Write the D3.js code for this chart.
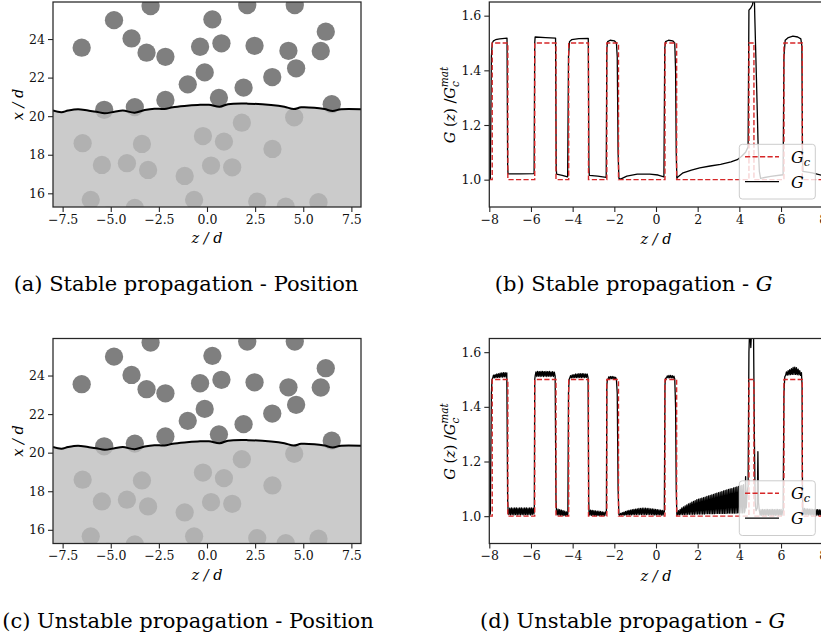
<!DOCTYPE html>
<html><head><meta charset="utf-8">
<script src="https://cdn.jsdelivr.net/npm/d3@7"></script>
<style>
body{margin:0;background:#fff}
svg text{font-family:'DejaVu Serif',serif;fill:#000}
</style>
</head><body>
<svg id="fig" width="821" height="637"></svg>
<script>
// ---------------- DATA ----------------
// particle centres [z/d, x/d]
const particles = [
 [-6.51,23.55],[-4.83,24.98],[-2.93,25.71],[-3.92,24.03],[-3.14,23.29],[-2.16,23.08],
 [-0.36,23.60],[0.28,25.02],[0.75,23.78],[2.09,25.76],[2.47,23.65],[4.56,25.76],
 [4.23,23.39],[6.17,24.38],[5.91,23.38],[4.63,22.48],[3.39,22.03],[1.90,21.48],
 [-0.12,22.27],[-1.00,21.65],[0.62,20.95],[-2.16,20.84],[-3.75,20.47],[-5.34,20.33],
 [6.48,20.62],
 [-6.46,18.60],[-3.38,18.56],[-0.21,18.97],[0.88,18.68],[1.81,19.66],[4.53,19.94],
 [3.40,18.30],[-5.46,17.47],[-4.16,17.56],[-3.06,17.21],[-1.16,16.90],[0.21,17.44],
 [1.31,17.35],[-6.04,15.66],[-0.67,15.66],[-3.75,15.24],[2.61,15.57],[4.09,15.31],
 [5.79,15.54],[-5.15,14.85]
];
const particleRadius = 0.475;
// crack front
const frontZ = [-8.0,-7.56,-7.22,-6.70,-6.18,-5.75,-5.32,-4.80,-4.37,-3.76,-3.24,-2.73,-2.21,-1.78,-1.17,-0.48,0.10,0.66,1.09,2.12,3.33,4.02,4.51,4.89,5.58,6.10,6.53,6.96,8.0];
const frontX = [20.29,20.20,20.29,20.36,20.29,20.23,20.15,20.23,20.29,20.18,20.32,20.39,20.37,20.46,20.53,20.58,20.59,20.49,20.62,20.65,20.58,20.49,20.37,20.46,20.44,20.37,20.27,20.36,20.36];

// G_c step breakpoints [z, value]
const gcSteps = [[-8,1.0],[-7.86,1.5],[-7.11,1.0],[-5.82,1.5],[-4.80,1.0],[-4.19,1.5],[-3.24,1.0],
 [-2.36,1.5],[-1.80,1.0],[0.43,1.5],[0.99,1.0],[4.46,1.5],[4.70,1.0],[6.14,1.5],[7.02,1.0],[8,1.0]];

// stable propagation G(z)
const gStable = [
 [-8.00,1.000],[-7.95,1.005],[-7.90,1.45],[-7.86,1.500],[-7.80,1.508],[-7.70,1.512],[-7.50,1.515],[-7.15,1.518],
 [-7.12,1.05],[-7.10,1.021],[-6.50,1.021],[-5.85,1.022],
 [-5.82,1.50],[-5.80,1.522],[-5.30,1.520],[-4.82,1.518],
 [-4.79,1.05],[-4.77,1.020],[-4.50,1.016],[-4.24,1.010],
 [-4.20,1.45],[-4.15,1.505],[-4.05,1.512],[-3.70,1.516],[-3.25,1.517],
 [-3.22,1.05],[-3.20,1.016],[-2.80,1.013],[-2.39,1.008],
 [-2.36,1.48],[-2.32,1.505],[-2.20,1.510],[-2.00,1.508],[-1.90,1.500],[-1.86,1.45],[-1.82,1.10],[-1.78,1.005],[-1.70,1.002],
 [-1.40,1.013],[-0.90,1.020],[-0.30,1.020],[0.10,1.017],[0.38,1.010],
 [0.42,1.48],[0.46,1.505],[0.60,1.510],[0.80,1.508],[0.90,1.500],[0.94,1.40],[0.97,1.10],[1.00,1.005],
 [1.05,1.010],[1.30,1.025],[1.70,1.035],[2.10,1.043],[2.60,1.050],[3.10,1.056],[3.60,1.065],[3.90,1.073],
 [4.10,1.085],[4.30,1.100],[4.42,1.120],
 [4.46,1.620],[4.55,1.628],[4.63,1.640],[4.68,1.660],[4.71,1.700],[4.74,1.600],[4.82,1.370],[4.90,1.130],
 [4.96,1.030],[5.02,1.005],[5.50,1.012],[6.10,1.018],
 [6.14,1.45],[6.20,1.510],[6.35,1.520],[6.57,1.525],[6.80,1.522],[6.95,1.515],[7.00,1.49],[7.03,1.10],
 [7.05,1.030],[7.50,1.025],[8.00,1.015]
];

// unstable propagation G(z): transition points [z, G]
const gUnstableEdges = [
 [-8.00,1.000],[-7.95,1.010],[-7.90,1.450],[-7.87,1.500],
 [-7.12,1.060],[-7.09,1.010],
 [-5.84,1.030],[-5.82,1.500],
 [-4.80,1.060],[-4.77,1.010],
 [-4.23,1.010],[-4.20,1.450],[-4.17,1.500],
 [-3.23,1.060],[-3.21,1.010],
 [-2.38,1.020],[-2.36,1.480],[-2.33,1.500],
 [-1.86,1.450],[-1.82,1.100],[-1.78,1.005],
 [0.40,1.015],[0.43,1.480],[0.46,1.505],
 [0.94,1.400],[0.97,1.100],[1.00,1.005],
 [4.27,1.020],[4.30,1.145],[4.33,1.030],[4.38,1.090],[4.42,1.110],[4.46,1.600],[4.50,1.700],[4.55,1.617],
 [4.60,1.700],[4.68,1.680],[4.72,1.300],[4.76,1.050],[4.80,1.020],[4.86,1.030],[4.89,1.236],[4.92,1.050],[4.96,1.020],
 [6.10,1.020],[6.14,1.450],[6.18,1.510],
 [7.01,1.480],[7.03,1.100],[7.05,1.010]
];
// unstable propagation G(z): oscillating stretches, sampled every dz from z0
const gUnstableRipples = [
 {z0:-7.84,dz:0.04,g:[1.504,1.516,1.506,1.518,1.507,1.520,1.508,1.521,1.508,1.523,1.509,1.524,1.509,1.525,1.510,1.525,1.510,1.524]},
 {z0:-7.06,dz:0.04,g:[1.006,1.029,1.005,1.030,1.006,1.029,1.005,1.030,1.006,1.030,1.005,1.029,1.006,1.030,1.005,1.030,1.006,1.029,1.005,1.030,1.006,1.030,1.005,1.029,1.006,1.030,1.005,1.030,1.006,1.029,1.008]},
 {z0:-5.80,dz:0.04,g:[1.512,1.528,1.511,1.530,1.512,1.529,1.511,1.530,1.512,1.530,1.511,1.529,1.512,1.530,1.511,1.529,1.512,1.530,1.511,1.528,1.512,1.529,1.511,1.527,1.512]},
 {z0:-4.74,dz:0.04,g:[1.005,1.026,1.004,1.024,1.003,1.022,1.003,1.020,1.002,1.018,1.002,1.016,1.003]},
 {z0:-4.14,dz:0.04,g:[1.505,1.514,1.506,1.517,1.506,1.518,1.507,1.520,1.507,1.520,1.507,1.521,1.508,1.521,1.507,1.521,1.508,1.521,1.507,1.520,1.508,1.520,1.507]},
 {z0:-3.18,dz:0.04,g:[1.004,1.022,1.003,1.021,1.003,1.020,1.002,1.019,1.002,1.018,1.002,1.018,1.002,1.017,1.002,1.016,1.002,1.015,1.002,1.014]},
 {z0:-2.30,dz:0.04,g:[1.502,1.510,1.503,1.511,1.503,1.511,1.503,1.510,1.502,1.508,1.500]},
 {z0:-1.74,dz:0.04,g:[1.003,1.010,1.004,1.013,1.004,1.015,1.004,1.017,1.005,1.019,1.005,1.021,1.005,1.022,1.005,1.024,1.006,1.025,1.006,1.026,1.006,1.027,1.006,1.028,1.006,1.028,1.006,1.029,1.006,1.029,1.006,1.029,1.006,1.028,1.006,1.028,1.006,1.027,1.006,1.027,1.005,1.026,1.005,1.025,1.005,1.024,1.005,1.023,1.005,1.022,1.004,1.021,1.004,1.020]},
 {z0:0.50,dz:0.04,g:[1.505,1.513,1.506,1.515,1.506,1.515,1.506,1.514,1.505,1.512,1.502]},
 {z0:1.04,dz:0.04,g:[1.005,1.020,1.005,1.025,1.006,1.030,1.006,1.034,1.006,1.038,1.006,1.041,1.007,1.045,1.007,1.048,1.007,1.051,1.007,1.054,1.007,1.057,1.008,1.060,1.008,1.062,1.008,1.064,1.008,1.066,1.008,1.068,1.008,1.070,1.009,1.072,1.009,1.074,1.009,1.076,1.009,1.078,1.009,1.080,1.009,1.082,1.010,1.084,1.010,1.086,1.010,1.088,1.010,1.090,1.010,1.092,1.010,1.094,1.010,1.096,1.011,1.098,1.011,1.100,1.011,1.101,1.011,1.103,1.011,1.105,1.011,1.107,1.012,1.109,1.012,1.111,1.012,1.113,1.012,1.115,1.012]},
 {z0:5.00,dz:0.04,g:[1.004,1.024,1.003,1.025,1.004,1.024,1.003,1.025,1.004,1.025,1.003,1.024,1.004,1.025,1.003,1.025,1.004,1.024,1.003,1.025,1.004,1.025,1.003,1.024,1.004,1.025,1.003,1.020]},
 {z0:6.22,dz:0.04,g:[1.515,1.528,1.516,1.532,1.517,1.536,1.518,1.540,1.519,1.544,1.519,1.545,1.519,1.543,1.518,1.538,1.517,1.532,1.515,1.525]},
 {z0:7.08,dz:0.04,g:[1.006,1.028,1.005,1.027,1.005,1.027,1.005,1.026,1.005,1.026,1.004,1.025,1.004,1.025,1.004,1.024,1.004,1.024,1.004,1.023,1.004,1.023,1.004,1.022]}
];

const posXTicks = [-7.5,-5.0,-2.5,0.0,2.5,5.0,7.5];
const posYTicks = [16,18,20,22,24];
const gXTicks = [-8,-6,-4,-2,0,2,4,6,8];
const gYTicks = [1.0,1.2,1.4,1.6];
const captionLetters = ["a","b","c","d"];
const captionTexts = ["Stable propagation - Position","Stable propagation - ","Unstable propagation - Position","Unstable propagation - "];

// ---------------- DRAWING ----------------
const SERIF = "'DejaVu Serif',serif";
const svg = d3.select('#fig');
const rowOff = [0, 336.5];
const defs = svg.append('defs');

function spines(g, x0, x1, y0, y1){
  g.append('rect').attr('x',x0).attr('y',y0).attr('width',x1-x0).attr('height',y1-y0)
   .attr('fill','none').attr('stroke','#262626').attr('stroke-width',1.25);
}
function styleAxis(sel){
  sel.attr('font-family',null).attr('font-size',null);
  sel.select('.domain').remove();
  sel.selectAll('.tick line').attr('stroke','#262626').attr('stroke-width',1.1);
  sel.selectAll('.tick text').style('font-family',SERIF).style('font-size','12.5px').style('fill','#111');
}
function caption(cx, y, i, withG){
  const t = svg.append('text').attr('x',cx).attr('y',y).attr('text-anchor','middle')
    .style('font-family',SERIF).style('font-size','21px');
  t.append('tspan').text('('+captionLetters[i]+') '+captionTexts[i]);
  if(withG) t.append('tspan').attr('font-style','italic').text('G');
}
function mathLabel(sel, txt, size){
  sel.style('font-family',SERIF).style('font-size',size+'px').attr('font-style','italic').text(txt);
}

function drawPosition(k){
  const off = rowOff[k];
  const x = d3.scaleLinear().domain([-8,8]).range([53,361]);
  const y = d3.scaleLinear().domain([15.29,25.92]).range([207+off,2+off]);
  const cid = 'clipP'+k;
  defs.append('clipPath').attr('id',cid).append('rect')
    .attr('x',x(-8)).attr('y',y(25.92)).attr('width',x(8)-x(-8)).attr('height',y(15.29)-y(25.92));
  const g = svg.append('g');
  const pg = g.append('g').attr('clip-path',`url(#${cid})`);
  const rpx = x(particleRadius)-x(0);
  pg.selectAll('circle').data(particles).join('circle')
    .attr('cx',d=>x(d[0])).attr('cy',d=>y(d[1])).attr('r',rpx).attr('fill','#7f7f7f');
  const front = frontZ.map((z,i)=>[z,frontX[i]]);
  const area = d3.area().x(d=>x(d[0])).y0(y(15.29)).y1(d=>y(d[1])).curve(d3.curveCatmullRom);
  pg.append('path').datum(front).attr('d',area).attr('fill','rgb(190,190,190)').attr('fill-opacity',0.8);
  const line = d3.line().x(d=>x(d[0])).y(d=>y(d[1])).curve(d3.curveCatmullRom);
  pg.append('path').datum(front).attr('d',line).attr('fill','none').attr('stroke','#000').attr('stroke-width',2);
  const ax = g.append('g').attr('transform',`translate(0,${y(15.29)})`)
    .call(d3.axisBottom(x).tickValues(posXTicks).tickSize(5).tickPadding(3).tickFormat(d3.format('.1f')));
  styleAxis(ax);
  const ay = g.append('g').attr('transform',`translate(${x(-8)},0)`)
    .call(d3.axisLeft(y).tickValues(posYTicks).tickSize(5).tickPadding(3).tickFormat(d3.format('d')));
  styleAxis(ay);
  spines(g, x(-8), x(8), y(25.92), y(15.29));
  mathLabel(g.append('text').attr('x',(x(-8)+x(8))/2).attr('y',243+off).attr('text-anchor','middle'), 'z / d', 14.5);
  mathLabel(g.append('text').attr('transform',`translate(23,${104.5+off}) rotate(-90)`).attr('text-anchor','middle'), 'x / d', 14.5);
}

function gSeriesUnstable(){
  const pts = gUnstableEdges.slice();
  gUnstableRipples.forEach(r=>r.g.forEach((v,i)=>pts.push([+(r.z0+i*r.dz).toFixed(3), v])));
  pts.sort((a,b)=>a[0]-b[0]);
  return pts;
}

function drawG(k, series){
  const off = rowOff[k];
  const x = d3.scaleLinear().domain([-8,8]).range([489.3,822.7]);
  const y = d3.scaleLinear().domain([0.90,1.65]).range([207+off,2+off]);
  const cid = 'clipG'+k;
  defs.append('clipPath').attr('id',cid).append('rect')
    .attr('x',x(-8)).attr('y',y(1.65)).attr('width',x(8)-x(-8)).attr('height',y(0.90)-y(1.65));
  const g = svg.append('g');
  const pg = g.append('g').attr('clip-path',`url(#${cid})`);
  const line = d3.line().x(d=>x(d[0])).y(d=>y(d[1]));
  pg.append('path').datum(series).attr('d',line).attr('fill','none').attr('stroke','#000')
    .attr('stroke-width',1.3).attr('stroke-linejoin','round');
  pg.append('path').datum(gcSteps).attr('d',line.curve(d3.curveStepAfter)).attr('fill','none')
    .attr('stroke','#d62728').attr('stroke-width',1.4).attr('stroke-dasharray','5.2,2.3');
  const ax = g.append('g').attr('transform',`translate(0,${y(0.90)})`)
    .call(d3.axisBottom(x).tickValues(gXTicks).tickSize(5).tickPadding(3).tickFormat(d3.format('d')));
  styleAxis(ax);
  const ay = g.append('g').attr('transform',`translate(${x(-8)},0)`)
    .call(d3.axisLeft(y).tickValues(gYTicks).tickSize(5).tickPadding(3).tickFormat(d3.format('.1f')));
  styleAxis(ay);
  spines(g, x(-8), x(8), y(1.65), y(0.90));
  mathLabel(g.append('text').attr('x',(x(-8)+x(8))/2).attr('y',244+off).attr('text-anchor','middle'), 'z / d', 14.5);
  const yl = g.append('text').attr('transform',`translate(455,${105+off}) rotate(-90)`).attr('text-anchor','middle')
    .style('font-family',SERIF).style('font-size','14.5px');
  yl.append('tspan').attr('font-style','italic').text('G');
  yl.append('tspan').text(' (');
  yl.append('tspan').attr('font-style','italic').text('z');
  yl.append('tspan').text(') /');
  yl.append('tspan').attr('font-style','italic').text('G');
  yl.append('tspan').attr('font-style','italic').style('font-size','10.5px').attr('dy',4).text('c');
  yl.append('tspan').attr('font-style','italic').style('font-size','10.5px').attr('dx',-6).attr('dy',-11).text('mat');
  // legend
  const lg = g.append('g');
  lg.append('rect').attr('x',739.3).attr('y',144.3+off).attr('width',76).attr('height',54.7).attr('rx',3)
    .attr('fill','#fff').attr('fill-opacity',0.8).attr('stroke','#cccccc').attr('stroke-width',1);
  lg.append('line').attr('x1',745).attr('x2',779).attr('y1',156.7+off).attr('y2',156.7+off)
    .attr('stroke','#d62728').attr('stroke-width',1.4).attr('stroke-dasharray','5.2,2.3');
  lg.append('line').attr('x1',745).attr('x2',779).attr('y1',181.7+off).attr('y2',181.7+off)
    .attr('stroke','#000').attr('stroke-width',1.3);
  const t1 = lg.append('text').attr('x',791).attr('y',162.5+off).style('font-family',SERIF).style('font-size','16px').attr('font-style','italic');
  t1.append('tspan').text('G');
  t1.append('tspan').style('font-size','11.5px').attr('dy',3).text('c');
  mathLabel(lg.append('text').attr('x',791).attr('y',187.5+off), 'G', 16);
}

drawPosition(0);
drawG(0, gStable);
drawPosition(1);
drawG(1, gSeriesUnstable());

caption(186, 291, 0, false);
caption(633.7, 291, 1, true);
caption(188, 627.5, 2, false);
caption(632.7, 627.5, 3, true);
</script>
</body></html>
